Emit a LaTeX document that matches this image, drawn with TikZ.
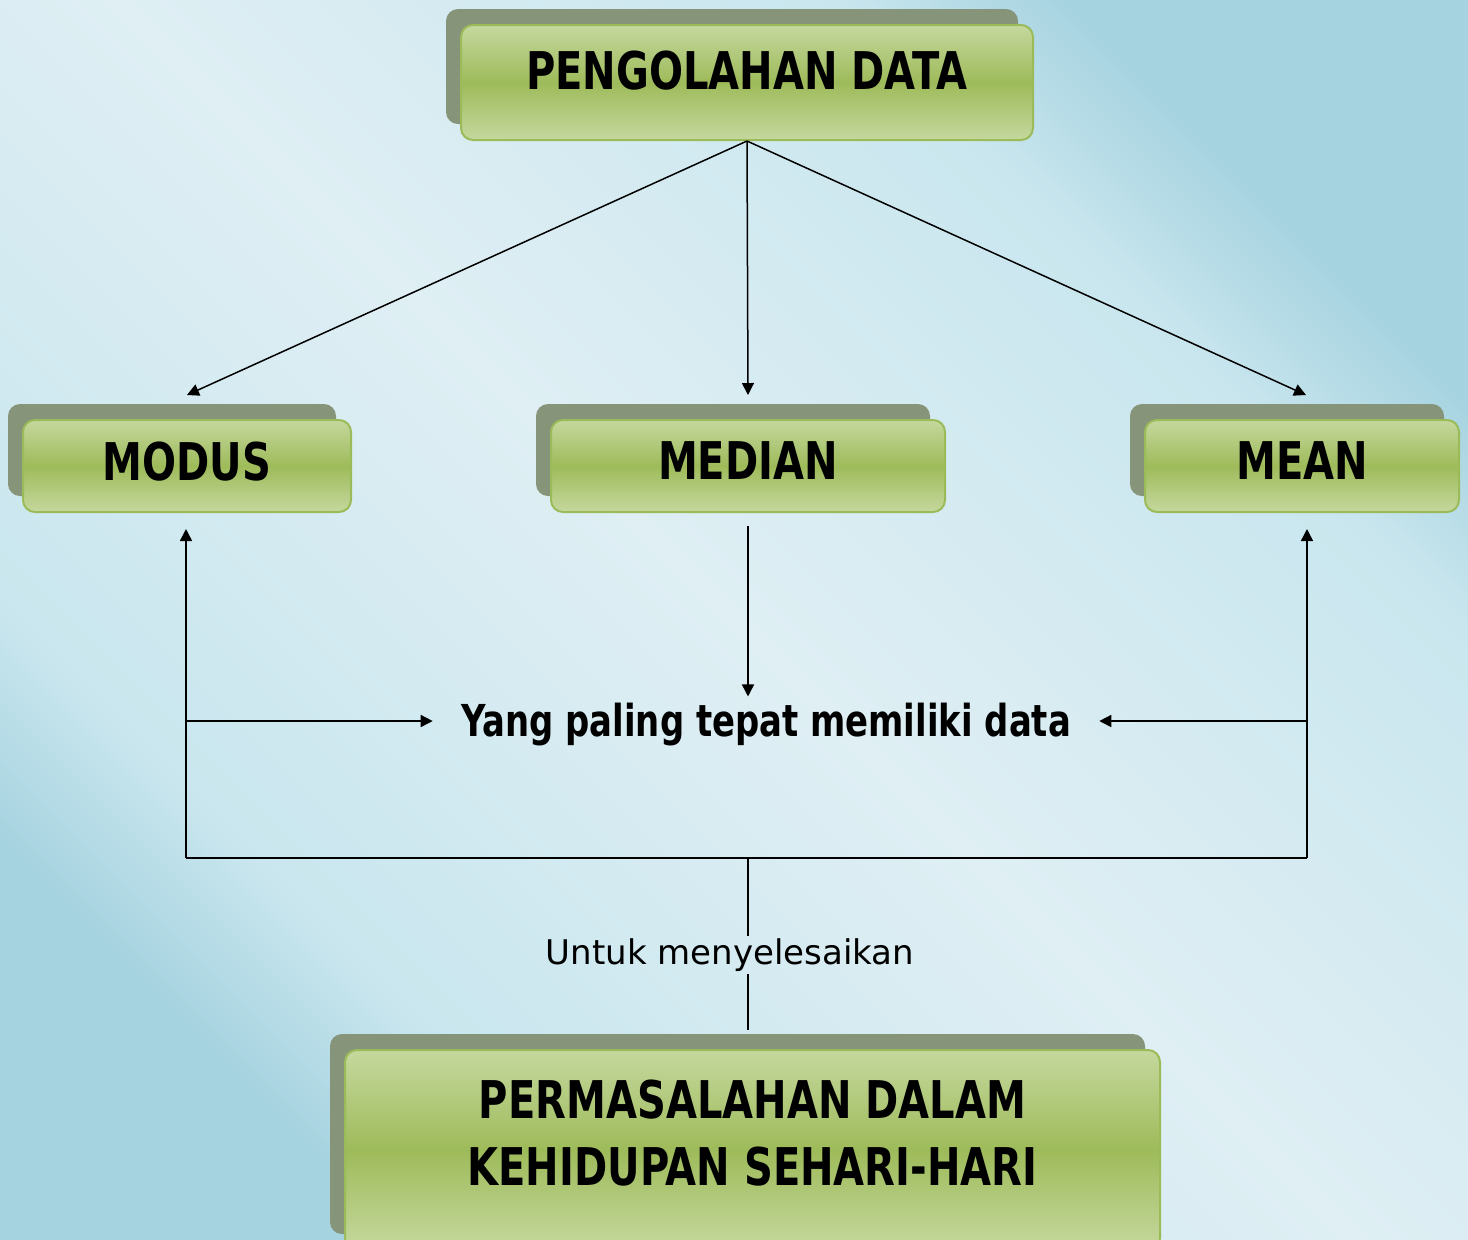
\documentclass[tikz,border=0pt]{standalone}
\usepackage{fontspec}
\setmainfont{DejaVu Sans}
\newfontfamily\headfont[FakeStretch=0.77]{DejaVu Sans}
\usetikzlibrary{arrows.meta,shadows}

\definecolor{bgdark}{HTML}{A6D3E0}
\definecolor{bgmid}{HTML}{C9E6EE}
\definecolor{bglight}{HTML}{DFEFF4}
\definecolor{boxlight}{HTML}{C5D89E}
\definecolor{boxmid}{HTML}{9EBB5A}
\definecolor{boxline}{HTML}{9BBB59}
\definecolor{shadowgreen}{HTML}{86947A}

\pgfdeclareverticalshading{skyshade}{100bp}{color(0bp)=(bgdark); color(25bp)=(bgdark);
  color(31bp)=(bgmid); color(50bp)=(bglight); color(69bp)=(bgmid);
  color(75bp)=(bgdark); color(100bp)=(bgdark)}

\begin{document}
\begin{tikzpicture}[x=0.5pt, y=-0.5pt,
    greenbox/.style={rectangle, rounded corners=6pt, draw=boxline, line width=1pt,
      top color=boxlight, bottom color=boxlight, middle color=boxmid,
      copy shadow={shadow xshift=-7.5pt, shadow yshift=8pt, fill=shadowgreen, draw=none},
      font=\headfont\bfseries\fontsize{26}{33.5}\selectfont, align=center},
    arr/.style={line width=0.75pt, -{Triangle[length=6pt,width=6pt]}},
    conn/.style={line width=0.75pt}]
    % background
    \clip (0,0) rectangle (1468,1239);
    \shade[shading=skyshade, shading angle=-45] (0,0) rectangle (1468,1239);

    % boxes
    \node[greenbox, minimum width=286pt, minimum height=57.5pt, text depth=12pt]
      (pengolahan) at (747,82.5) {PENGOLAHAN DATA};
    \node[greenbox, minimum width=164pt, minimum height=46pt, text depth=5pt]
      (modus) at (187,466) {MODUS};
    \node[greenbox, minimum width=197pt, minimum height=46pt, text depth=5pt]
      (median) at (748,466) {MEDIAN};
    \node[greenbox, minimum width=157pt, minimum height=46pt, text depth=5pt]
      (mean) at (1302,466) {MEAN};
    \node[greenbox, minimum width=407.5pt, minimum height=100pt, text depth=17pt]
      (permasalahan) at (752.5,1150) {PERMASALAHAN DALAM\\KEHIDUPAN SEHARI-HARI};

    % texts
    \node[font=\headfont\bfseries\fontsize{22}{26}\selectfont, inner xsep=14pt]
      (tepat) at (766,725) {Yang paling tepat memiliki data};
    \node[font=\fontsize{17}{20}\selectfont, inner sep=1pt]
      (untuk) at (730,955) {Untuk menyelesaikan};

    % arrows from the top
    \draw[arr] (pengolahan.south) -- ([yshift=12pt]modus.north);
    \draw[arr] (pengolahan.south) -- ([yshift=12pt]median.north);
    \draw[arr] (pengolahan.south) -- ([xshift=2pt,yshift=12pt]mean.north);
    \draw[arr, shorten <=6.5pt] (median.south) -- (tepat.north -| median.south);

    % bottom loop
    \coordinate (joinl) at (186,858);
    \coordinate (joinr) at (1307,858);
    \coordinate (joinm) at (748,858);
    \draw[arr] (joinl) -- ([yshift=-8pt]modus.south -| joinl);
    \draw[arr] (joinr) -- ([yshift=-8pt]mean.south -| joinr);
    \draw[arr] (joinl |- 0,721) -- (tepat.west |- 0,721);
    \draw[arr] (joinr |- 0,721) -- (tepat.east |- 0,721);
    \draw[conn] (joinl) -- (joinr);
    \draw[conn] (joinm) -- (joinm |- untuk.north);
    \draw[conn] (joinm |- untuk.south) -- ([yshift=9.5pt]joinm |- permasalahan.north);
  \end{tikzpicture}
\end{document}
